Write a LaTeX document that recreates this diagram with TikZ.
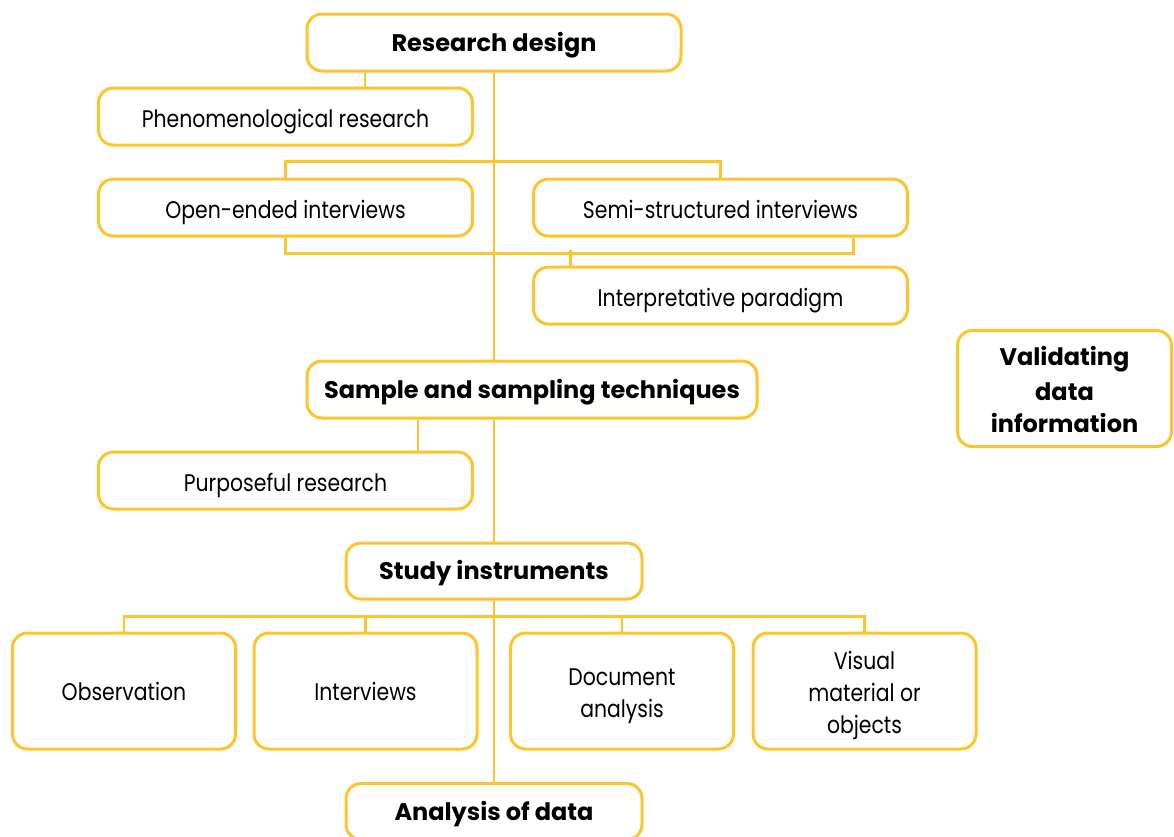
\documentclass[tikz,border=0pt]{standalone}
\usepackage{fontspec}
\setmainfont{Poppins}
\newfontfamily\plainfont{Poppins}[FakeStretch=0.85]
\usetikzlibrary{positioning}
\definecolor{gold}{RGB}{253,196,46}
\newcommand\linestrut{\rule[-5.5pt]{0pt}{32pt}}

\begin{document}
\begin{tikzpicture}[x=1pt,y=-1pt,node distance=28pt and 57pt,
  every node/.style={font=\plainfont\fontsize{24}{32}\selectfont},
  box/.style={draw=gold,line width=3pt,rounded corners=15pt,minimum width=374pt,
    minimum height=57pt,inner sep=0pt,align=center,text height=26.5pt,text depth=5.5pt},
  head box/.style={box,font=\fontsize{24}{32}\selectfont\bfseries,text height=24.5pt,text depth=7.5pt},
  tall box/.style={box,minimum width=223pt,minimum height=116pt,text height=,text depth=},
  link/.style={draw=gold,line width=2.5pt}]

  \useasboundingbox (0,0) rectangle (1174,836);

  \node[head box] (design) at (494,42.5) {Research design};
  \node[box] (phen) at (285.5,116.5) {Phenomenological research};
  \node[box] (open) at (285.5,207.5) {Open-ended interviews};
  \node[box] (semi) [right=58pt of open] {Semi-structured interviews};
  \node[box] (interp) [below=of semi] {Interpretative paradigm};
  \node[head box,minimum width=450pt] (sample) at (532,389.5) {Sample and sampling techniques};
  \node[head box,minimum width=214pt,minimum height=116pt,text height=,text depth=] (valid)
    at (1064.5,388.5) {\linestrut Validating\\\linestrut data\\\linestrut information};
  \node[box] (purp) at (285.5,480.5) {Purposeful research};
  \node[head box,minimum width=296pt,minimum height=56pt] (study) at (494,571) {Study instruments};
  \node[tall box] (obs) at (124,691) {Observation};
  \node[tall box] (inter) [right=15.5pt of obs] {Interviews};
  \node[tall box] (doc) [right=30.5pt of inter] {\linestrut Document\\\linestrut analysis};
  \node[tall box] (vis) [right=16.5pt of doc] {\linestrut Visual\\\linestrut material or\\\linestrut objects};
  \node[head box,minimum width=296pt,minimum height=56pt] (analysis) at (494,811.5) {Analysis of data};

  % main spine
  \path[link] (design.south) -- (sample.north -| design.south);
  \path[link] (sample.south -| study.north) -- (study.north);
  \path[link] (study.south) -- (analysis.north);

  % research design branches
  \coordinate (phen tap) at ([xshift=-129pt]design.south);
  \path[link] (phen tap) -- (phen tap |- phen.north);
  \path[link] (open.north) -- ++(0,-16) -| (semi.north);
  \coordinate (semi tap) at ([xshift=133pt]semi.south);
  \path[link] (open.south) -- ++(0,16) -| (semi tap);
  \path[link] ([xshift=-150pt]interp.north) -- ++(0,-16);

  % sampling branch
  \coordinate (purp tap) at ([xshift=-114pt]sample.south);
  \path[link] (purp tap) -- (purp tap |- purp.north);

  % instruments
  \path[link] (obs.north) -- ++(0,-15) -| (vis.north);
  \path[link] (inter.north) -- ++(0,-15);
  \path[link] (doc.north) -- ++(0,-15);
\end{tikzpicture}
\end{document}
